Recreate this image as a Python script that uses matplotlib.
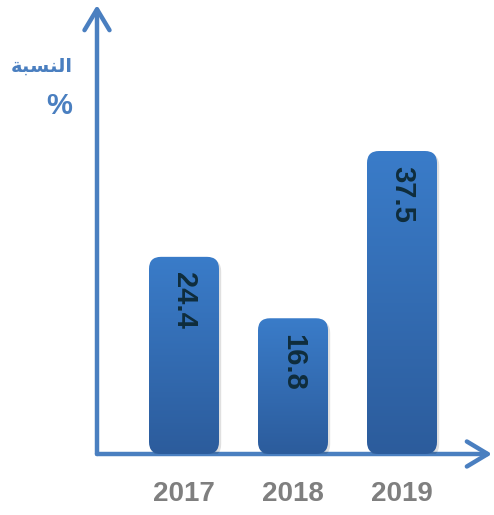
import numpy as np
import matplotlib
matplotlib.use("Agg")
import matplotlib.pyplot as plt
from matplotlib.patches import FancyBboxPatch
from matplotlib.colors import LinearSegmentedColormap

years = ["2017", "2018", "2019"]
shares = [24.4, 16.8, 37.5]
# Arabic label in presentation forms, visual order (matplotlib has no shaping)
y_label = "\ufe94\ufe92\ufeb4\ufee8\ufedf\ufe8d"  # النسبة
y_unit = "%"

W, H, DPI = 494, 515, 100
fig = plt.figure(figsize=(W / DPI, H / DPI), dpi=DPI)

# plot area: left at the vertical axis, bottom at baseline
left_px, base_px = 97, 454
ax = fig.add_axes([left_px / W, (H - base_px) / H, 1 - left_px / W, base_px / H])
px_per_unit = 8.08
step_px = 109
ax.set_ylim(0, base_px / px_per_unit)
x0 = -(184 - left_px) / step_px
ax.set_xlim(x0, x0 + (W - left_px) / step_px)
ax.axis("off")

bar_w = 70 / step_px
aspect = step_px / px_per_unit
cmap = LinearSegmentedColormap.from_list("bar", ["#2c5c9c", "#3a7cc9"])
grad = np.linspace(0, 1, 256).reshape(-1, 1)

for i, v in enumerate(shares):
    # soft shadow
    sh = FancyBboxPatch((i - bar_w / 2 + 0.02, -0.3), bar_w, v,
                        boxstyle="round,pad=0,rounding_size=0.11",
                        mutation_aspect=aspect, fc="#000000", ec="none",
                        alpha=0.12, zorder=2)
    ax.add_patch(sh)
    p = FancyBboxPatch((i - bar_w / 2, 0), bar_w, v,
                       boxstyle="round,pad=0,rounding_size=0.11",
                       mutation_aspect=aspect, fc="none", ec="none", zorder=3)
    ax.add_patch(p)
    im = ax.imshow(grad, cmap=cmap, aspect="auto", origin="lower",
                   extent=(i - bar_w / 2, i + bar_w / 2, 0, v), zorder=3)
    im.set_clip_path(p)
    ax.annotate(f"{v}", xy=(i, v), xytext=(0, -11), textcoords="offset points",
                rotation=-90, ha="center", va="top", fontsize=21,
                fontweight="bold", color="#0f2d3c", family="Liberation Sans",
                zorder=5)
    ax.text(i, -40 / px_per_unit, years[i], ha="center", va="center",
            fontsize=20, fontweight="bold", color="#7f7f7f",
            family="Liberation Sans", clip_on=False)

axis_col = "#4a7fc0"
arrow = dict(arrowstyle="->,head_length=0.75,head_width=0.45", color=axis_col,
             lw=3.2, mutation_scale=20, shrinkA=0, shrinkB=0)
ax.annotate("", xy=(0, 449 / base_px), xytext=(0, 0), xycoords="axes fraction",
            textcoords="axes fraction", arrowprops=arrow, zorder=1,
            annotation_clip=False)
ax.annotate("", xy=(0.995, 0), xytext=(0, 0), xycoords="axes fraction",
            textcoords="axes fraction", arrowprops=arrow, zorder=1,
            annotation_clip=False)

fig.text(73 / W, 1 - 66 / H, y_label, ha="right", va="center", fontsize=14,
         fontweight="bold", color=axis_col, family="DejaVu Sans")
fig.text(72 / W, 1 - 106 / H, y_unit, ha="right", va="center", fontsize=21,
         fontweight="bold", color=axis_col, family="Liberation Sans")

fig.savefig("out.png", dpi=DPI)
